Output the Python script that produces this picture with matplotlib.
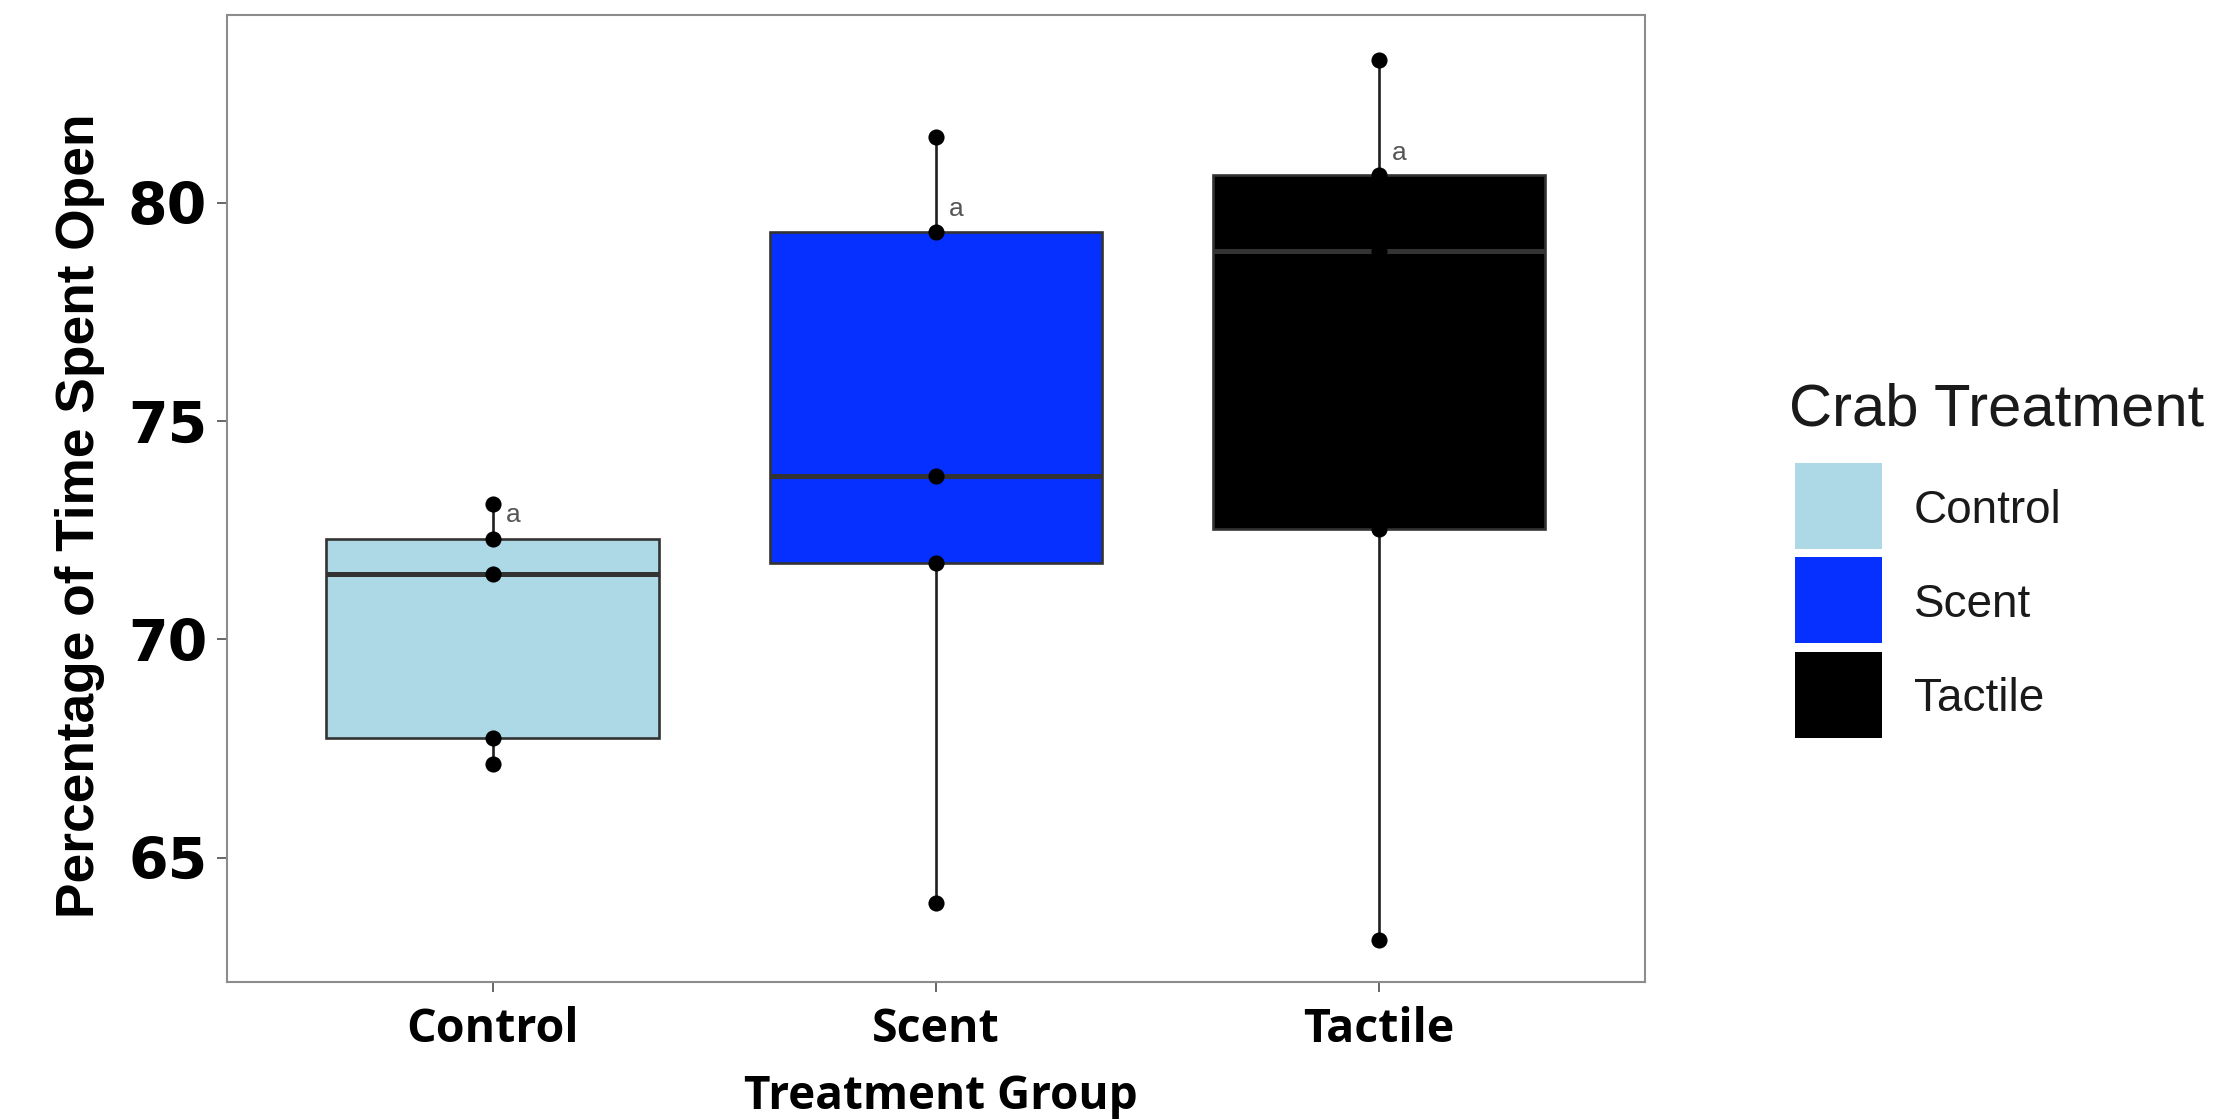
import numpy as np
import matplotlib
matplotlib.use("Agg")
import matplotlib.pyplot as plt
from matplotlib.patches import Rectangle

# percentage of time each clam spent open, per crab treatment
groups = ["Control", "Scent", "Tactile"]
control_vals = [73.09, 72.29, 71.49, 67.73, 67.14]
scent_vals = [81.51, 79.34, 73.73, 71.75, 63.95]
tactile_vals = [83.28, 80.63, 78.89, 72.52, 63.12]
fills = ["#ADD8E6", "#0530FF", "#000000"]

# significance letters and the heights they sit at
sig_letters = ["a", "a", "a"]
sig_y = [72.85, 79.85, 81.15]

yticks = [65, 70, 75, 80]

W, H = 2214, 1119
fig = plt.figure(figsize=(W / 100, H / 100), dpi=100)
ax = fig.add_axes([226.7 / W, (H - 982) / H, (1645 - 226.7) / W, (982 - 15) / H])

data = [control_vals, scent_vals, tactile_vals]
pos = np.arange(1, len(groups) + 1)

bp = ax.boxplot(data, positions=pos, widths=0.75, patch_artist=True,
                showcaps=False, showfliers=False, whis=1.5,
                boxprops=dict(edgecolor="#333333", linewidth=1.9),
                medianprops=dict(color="#333333", linewidth=3.6),
                whiskerprops=dict(color="#1f1f1f", linewidth=1.9))
for patch, c in zip(bp["boxes"], fills):
    patch.set_facecolor(c)

for x, vals in zip(pos, data):
    ax.scatter([x] * len(vals), vals, s=135, color="black", zorder=5, linewidths=0)

for x, lab, y in zip(pos, sig_letters, sig_y):
    ax.text(x + 0.03, y, lab, ha="left", va="center", fontsize=19,
            family="Liberation Sans", color="#555555", zorder=6)

ax.set_xlim(0.4, 3.6)
ax.set_ylim(62.15, 84.30)
ax.set_xticks(pos)
ax.set_xticklabels(groups, fontsize=33.5, fontweight="bold", family="Open Sans")
ax.set_yticks(yticks)
ax.set_yticklabels([str(t) for t in yticks], fontsize=41, fontweight="bold",
                   family="DejaVu Sans")
ax.tick_params(axis="both", length=7, width=1.4, color="#666666")
ax.tick_params(axis="x", pad=10)
ax.tick_params(axis="y", pad=7)
for sp in ax.spines.values():
    sp.set_color("#8c8c8c")
    sp.set_linewidth(1.5)

ax.set_xlabel("Treatment Group", fontsize=33, fontweight="bold", family="Open Sans")
ax.xaxis.set_label_coords(0.5036, -0.094)
ax.set_ylabel("Percentage of Time Spent Open", fontsize=38.3, fontweight="bold",
              family="Liberation Sans")
ax.yaxis.set_label_coords(-0.086, 0.482)

# legend drawn by hand in figure pixels
fig.text(1789 / W, 1 - 425 / H, "Crab Treatment", fontsize=43,
         family="Liberation Sans", color="#1a1a1a", ha="left", va="baseline")
key_tops = [463.3, 557.3, 651.7]
for top, c, lab in zip(key_tops, fills, groups):
    fig.patches.append(Rectangle((1795 / W, 1 - (top + 86) / H), 87 / W, 86 / H,
                                 transform=fig.transFigure, facecolor=c,
                                 edgecolor=c, linewidth=0))
    fig.text(1914 / W, 1 - (top + 43 + 16.5) / H, lab, fontsize=33,
             family="Liberation Sans", color="#1a1a1a", ha="left", va="baseline")

fig.savefig("out.png", dpi=100, facecolor="white")
